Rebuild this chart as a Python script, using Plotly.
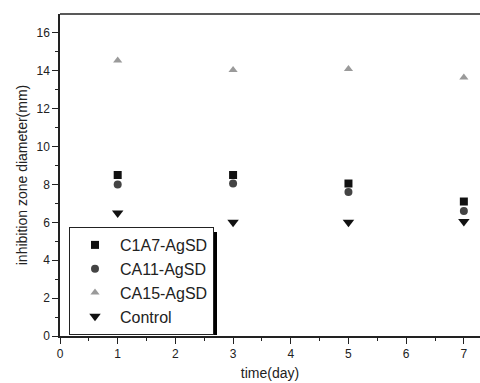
import plotly.graph_objects as go

days = [1, 3, 5, 7]
c1a7 = [8.5, 8.5, 8.05, 7.1]
ca11 = [8.0, 8.05, 7.6, 6.6]
ca15 = [14.55, 14.05, 14.1, 13.65]
control = [6.5, 6.0, 6.0, 6.05]
names = ["C1A7-AgSD", "CA11-AgSD", "CA15-AgSD", "Control"]

fig = go.Figure()
fig.add_trace(go.Scatter(x=days, y=c1a7, mode="markers", name=names[0],
                         marker=dict(symbol="square", size=8, color="#111111")))
fig.add_trace(go.Scatter(x=days, y=ca11, mode="markers", name=names[1],
                         marker=dict(symbol="circle", size=8, color="#444444")))
fig.add_trace(go.Scatter(x=days, y=ca15, mode="markers", name=names[2],
                         marker=dict(symbol="triangle-up", size=8, color="#9a9a9a")))
fig.add_trace(go.Scatter(x=days, y=control, mode="markers", name=names[3],
                         marker=dict(symbol="triangle-down", size=10, color="#111111")))

W, H = 480, 383
L, T, B, R = 60, 14, 47, 0
pw, ph = W - L - R, H - T - B

def px2paper(x, y):
    return (x - L) / pw, (H - B - y) / ph

sx0, sy0 = px2paper(74, 335)
sx1, sy1 = px2paper(217, 232)
fig.add_shape(type="rect", xref="paper", yref="paper", x0=sx0, y0=sy0, x1=sx1, y1=sy1,
              fillcolor="black", line=dict(width=0), layer="below")
# top frame line
fig.add_shape(type="line", xref="paper", yref="paper", x0=0, y0=1, x1=1, y1=1,
              line=dict(color="#222", width=1.5))

lx, ly = px2paper(69, 227)
fig.update_layout(
    width=W, height=H,
    margin=dict(l=L, r=R, t=T, b=B),
    paper_bgcolor="white", plot_bgcolor="white",
    font=dict(family="Liberation Sans, Arial", size=12, color="#222"),
    showlegend=True,
    legend=dict(x=lx, y=ly, xanchor="left", yanchor="top",
                bgcolor="white", bordercolor="#222", borderwidth=1,
                font=dict(size=16, color="#222"), tracegroupgap=0,
                itemwidth=40),
    xaxis=dict(range=[0, 7.28], tickmode="array", tickvals=[0, 1, 2, 3, 4, 5, 6, 7],
               ticks="outside", ticklen=6, tickwidth=1, tickcolor="#222",
               minor=dict(tickmode="array", tickvals=[0.5, 1.5, 2.5, 3.5, 4.5, 5.5, 6.5],
                          ticks="outside", ticklen=3, tickcolor="#222"),
               showline=True, linecolor="#222", linewidth=1.5,
               showgrid=False, zeroline=False,
               title=dict(text="time(day)", font=dict(size=14), standoff=8)),
    yaxis=dict(range=[0, 17], tickmode="array", tickvals=[0, 2, 4, 6, 8, 10, 12, 14, 16],
               ticks="outside", ticklen=6, tickwidth=1, tickcolor="#222",
               minor=dict(tickmode="array", tickvals=[1, 3, 5, 7, 9, 11, 13, 15],
                          ticks="outside", ticklen=3, tickcolor="#222"),
               showline=True, linecolor="#222", linewidth=1.5,
               showgrid=False, zeroline=False,
               title=dict(text="inhibition zone diameter(mm)", font=dict(size=14), standoff=6)),
)
fig.write_html("out.html")
